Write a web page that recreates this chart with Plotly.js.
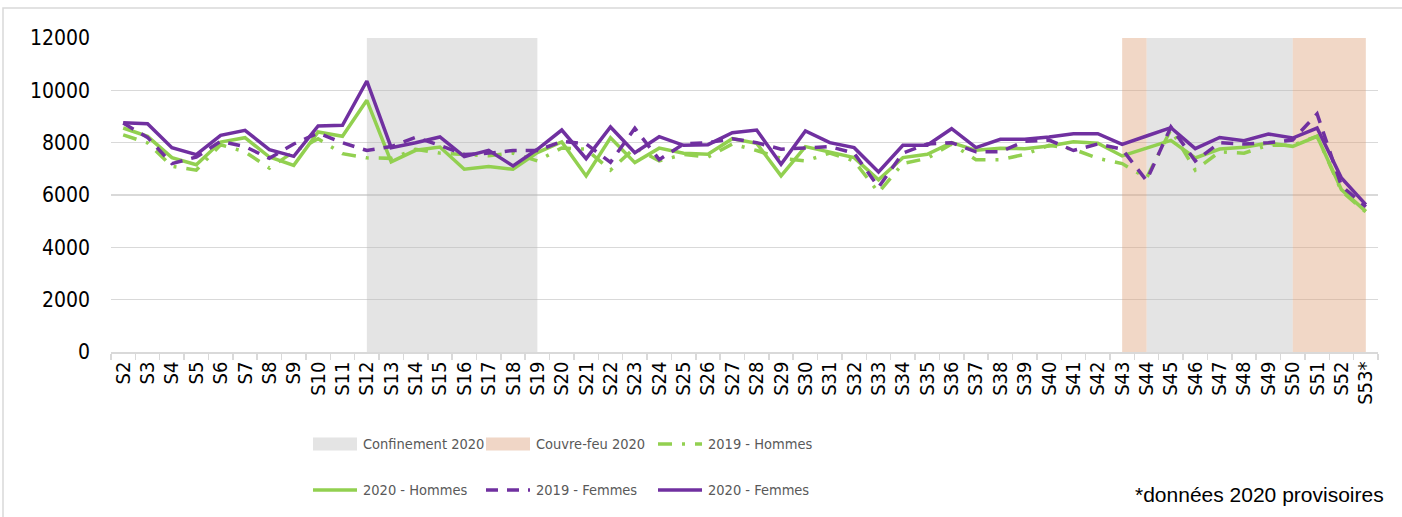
<!DOCTYPE html>
<html>
<head>
<meta charset="utf-8">
<script src="https://cdn.plot.ly/plotly-3.0.1.min.js"></script>
<style>
  html, body { margin: 0; padding: 0; background: #ffffff; }
  #chart { width: 1402px; height: 517px; }
</style>
</head>
<body>
<div id="chart"></div>
<script>
// ---------- DATA ----------
const weeks = ['S2','S3','S4','S5','S6','S7','S8','S9','S10','S11','S12','S13','S14','S15','S16','S17','S18','S19','S20','S21','S22','S23','S24','S25','S26','S27','S28','S29','S30','S31','S32','S33','S34','S35','S36','S37','S38','S39','S40','S41','S42','S43','S44','S45','S46','S47','S48','S49','S50','S51','S52','S53*'];

const hommes2019 = [8300,7990,7100,6950,7920,7650,7030,7650,8150,7580,7420,7400,7750,7600,7550,7500,7600,7300,7800,7750,6950,7800,7300,7550,7450,7950,7700,7400,7300,7600,7300,6100,7200,7400,7950,7350,7350,7550,7900,7750,7400,7200,6650,8500,6950,7650,7600,7900,7900,8250,6150,5350];

const hommes2020 = [8560,8242,7427,7159,8025,8191,7452,7134,8408,8242,9618,7263,7708,7835,6983,7085,6983,7619,8025,6730,8190,7238,7790,7593,7555,8152,7975,6730,7848,7644,7428,6577,7428,7555,8000,7708,7784,7771,7873,8038,7975,7492,7784,8089,7414,7758,7822,7987,7860,8242,6204,5376];

const femmes2019 = [8750,8200,7200,7450,8050,7850,7400,7950,8370,8000,7700,7850,8200,7900,7550,7600,7700,7700,8050,7950,7250,8550,7350,7950,8000,8150,8000,7750,7800,7850,7600,6300,7600,7950,8000,7650,7650,8050,8100,7700,7950,7750,6550,8600,7300,8000,7950,8000,8100,9100,6350,5550];

const femmes2020 = [8764,8726,7809,7541,8280,8471,7732,7478,8637,8662,10357,7810,8000,8216,7466,7708,7110,7746,8483,7390,8597,7619,8229,7900,7924,8381,8483,7174,8445,8000,7810,6882,7900,7900,8534,7810,8127,8127,8216,8343,8343,7936,8254,8572,7770,8200,8076,8331,8178,8560,6650,5630];

const confinementPeriods = [['S12','S19'], ['S44','S50']];
const couvreFeuPeriods   = [['S43','S44'], ['S50','S53*']];
const shadeTop = 12000;

const yTicks = [0, 2000, 4000, 6000, 8000, 10000, 12000];
const footnote = '*données 2020 provisoires';

// ---------- STYLE ----------
const GREEN = '#92D050';
const PURPLE = '#7030A0';
const GRAY_FILL = 'rgba(185,185,185,0.38)';
const ORANGE_FILL = 'rgba(222,160,120,0.42)';
const GRAY_SWATCH = '#E4E4E4';
const ORANGE_SWATCH = '#F0D6C6';
const COND = "'DejaVu Sans Condensed', 'Liberation Sans Narrow', sans-serif";
const DASHDOT = '14px,10px,3px,10px';
const DASHED = '12px,9px';

// plot geometry (pixels)
const W = 1402, H = 517;
const M = { l: 111, r: 24, t: 38, b: 165 };
const PW = W - M.l - M.r, PH = H - M.t - M.b;
const X = px => (px - M.l) / PW;
const Y = py => (M.t + PH - py) / PH;

function periodY(start, end) {
  const a = weeks.indexOf(start), b = weeks.indexOf(end);
  return weeks.map((w, i) => (i >= a && i <= b) ? shadeTop : null);
}

const traces = [];
confinementPeriods.forEach(p => traces.push({
  type: 'scatter', mode: 'none', x: weeks, y: periodY(p[0], p[1]),
  fill: 'tozeroy', fillcolor: GRAY_FILL, name: 'Confinement 2020',
  showlegend: false, hoverinfo: 'skip'
}));
couvreFeuPeriods.forEach(p => traces.push({
  type: 'scatter', mode: 'none', x: weeks, y: periodY(p[0], p[1]),
  fill: 'tozeroy', fillcolor: ORANGE_FILL, name: 'Couvre-feu 2020',
  showlegend: false, hoverinfo: 'skip'
}));

const series = [
  { name: '2019 - Hommes', y: hommes2019, color: GREEN, dash: DASHDOT },
  { name: '2020 - Hommes', y: hommes2020, color: GREEN, dash: 'solid' },
  { name: '2019 - Femmes', y: femmes2019, color: PURPLE, dash: DASHED },
  { name: '2020 - Femmes', y: femmes2020, color: PURPLE, dash: 'solid' }
];
series.forEach(s => traces.push({
  type: 'scatter', mode: 'lines', x: weeks, y: s.y, name: s.name,
  line: { color: s.color, width: 3.5, dash: s.dash },
  showlegend: false, hoverinfo: 'skip'
}));

// ---------- custom legend ----------
const legendEntries = [
  { label: 'Confinement 2020', kind: 'rect', color: GRAY_SWATCH, col: 0, row: 0 },
  { label: 'Couvre-feu 2020', kind: 'rect', color: ORANGE_SWATCH, col: 1, row: 0 },
  { label: '2019 - Hommes', kind: 'line', color: GREEN, dash: DASHDOT, col: 2, row: 0 },
  { label: '2020 - Hommes', kind: 'line', color: GREEN, dash: 'solid', col: 0, row: 1 },
  { label: '2019 - Femmes', kind: 'line', color: PURPLE, dash: DASHED, col: 1, row: 1 },
  { label: '2020 - Femmes', kind: 'line', color: PURPLE, dash: 'solid', col: 2, row: 1 }
];
const colX = [313, 486, 658];
const rowY = [444, 490];
const SW = 44;

const shapes = [];
const annotations = [];
legendEntries.forEach(e => {
  const x0 = colX[e.col], cy = rowY[e.row];
  if (e.kind === 'rect') {
    shapes.push({ type: 'rect', xref: 'paper', yref: 'paper',
      x0: X(x0), x1: X(x0 + SW), y0: Y(cy + 6.5), y1: Y(cy - 6.5),
      fillcolor: e.color, line: { width: 0 } });
  } else {
    shapes.push({ type: 'line', xref: 'paper', yref: 'paper',
      x0: X(x0), x1: X(x0 + SW), y0: Y(cy), y1: Y(cy),
      line: { color: e.color, width: 3.5, dash: e.dash } });
  }
  annotations.push({ xref: 'paper', yref: 'paper', x: X(x0 + SW + 4), y: Y(cy),
    xanchor: 'left', yanchor: 'middle', showarrow: false, text: e.label,
    font: { family: COND, size: 14.5, color: '#595959' } });
});

annotations.push({ xref: 'paper', yref: 'paper', x: X(1386), y: Y(494),
  xanchor: 'right', yanchor: 'middle', showarrow: false, text: footnote,
  font: { family: "'Liberation Sans', Arial, sans-serif", size: 21, color: '#000000' } });

// outer chart border
shapes.push({ type: 'rect', xref: 'paper', yref: 'paper',
  x0: X(3), x1: X(1412), y0: Y(530), y1: Y(8),
  line: { color: '#D9D9D9', width: 1.5 }, fillcolor: 'rgba(0,0,0,0)', layer: 'below' });

const layout = {
  width: W, height: H,
  margin: M,
  paper_bgcolor: '#ffffff', plot_bgcolor: '#ffffff',
  showlegend: false,
  hovermode: false,
  font: { family: COND, color: '#000000' },
  xaxis: {
    type: 'category', range: [-0.5, weeks.length - 0.5],
    tickmode: 'linear', tick0: 0, dtick: 1,
    tickangle: -90, tickson: 'boundaries', ticks: 'outside', ticklen: 6,
    tickcolor: '#D9D9D9', tickwidth: 1.5,
    showline: true, linecolor: '#D9D9D9', linewidth: 1.5,
    showgrid: false, zeroline: false,
    tickfont: { family: COND, size: 20, color: '#000000' }
  },
  yaxis: {
    range: [0, 12000], tickvals: yTicks, tickformat: 'd',
    showgrid: true, gridcolor: '#D9D9D9', gridwidth: 1.5,
    zeroline: false, showline: false, ticks: '',
    ticklabelstandoff: 20,
    tickfont: { family: COND, size: 21, color: '#000000' }
  },
  shapes: shapes,
  annotations: annotations
};

Plotly.newPlot('chart', traces, layout, { staticPlot: true, displayModeBar: false });
</script>
</body>
</html>
